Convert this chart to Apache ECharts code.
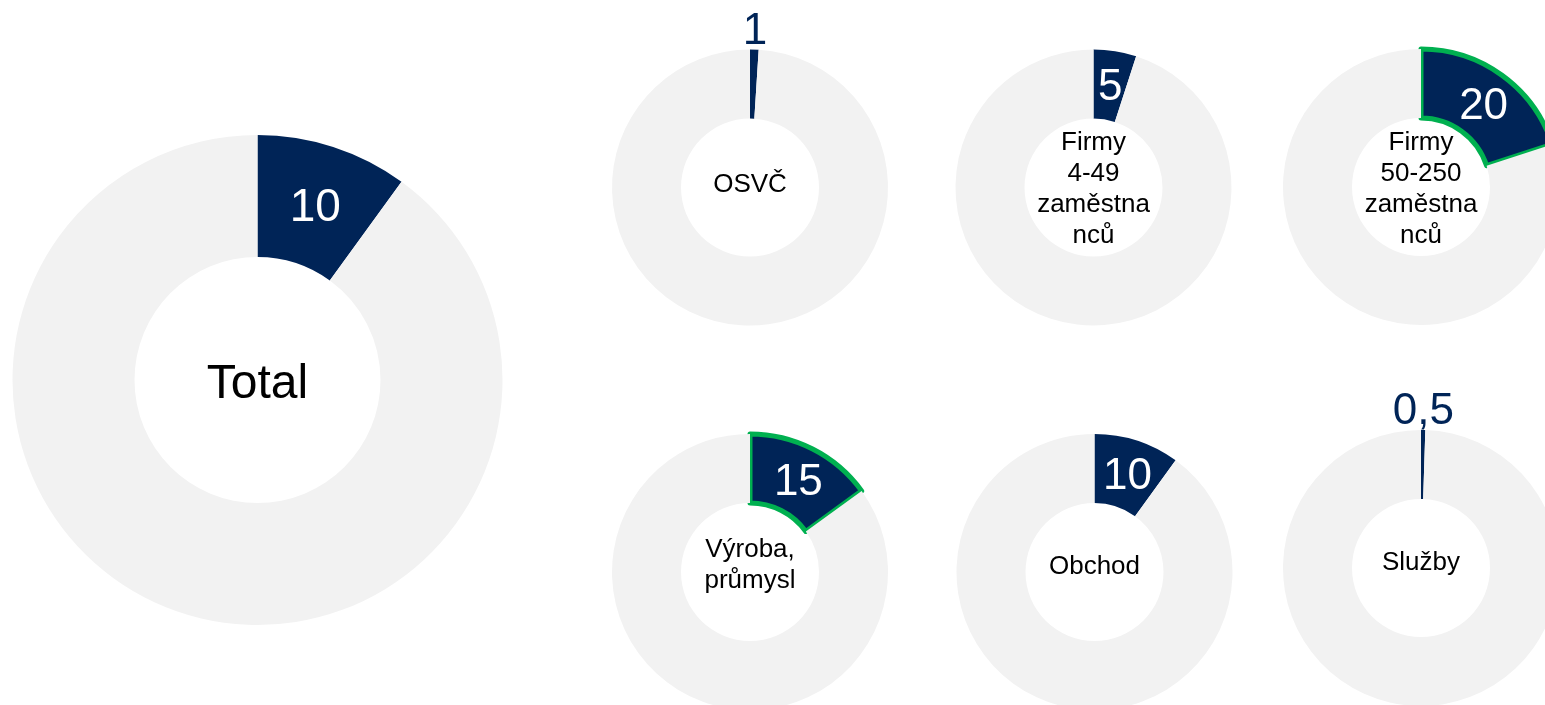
<!DOCTYPE html>
<html>
<head>
<meta charset="utf-8">
<script src="https://cdn.jsdelivr.net/npm/echarts@6/dist/echarts.min.js"></script>
<style>
  html, body { margin: 0; padding: 0; background: #fff; }
  #chart { width: 1545px; height: 705px; }
</style>
</head>
<body>
<div id="chart"></div>
<script>
  // data (shares in %)
  const categories = ['Total', 'OSVČ', 'Firmy\n4-49\nzaměstna\nnců', 'Firmy\n50-250\nzaměstna\nnců', 'Výroba,\nprůmysl', 'Obchod', 'Služby']
  const shares = [10, 1, 5, 20, 15, 10, 0.5]
  const highlighted = [false, false, false, true, true, false, false]

  const navy = '#002457'
  const grey = '#f2f2f2'
  const green = '#00b050'
  const font = '"Liberation Sans", Arial, sans-serif'

  // where each donut sits: cx, cy, inner r, outer r, number size, name size, name nudge (+ = down)
  const slots = [
    [257.5, 380, 123, 245, 46, 48, 5],
    [750, 187.5, 69, 138, 44, 26, -3],
    [1093.5, 187.5, 69, 138, 44, 26, 2],
    [1421, 187, 69, 138, 44, 26, 2],
    [750, 572, 69, 138, 44, 26, -7],
    [1094.5, 572, 69, 138, 44, 26, -5],
    [1421, 568, 69, 138, 44, 26, -5]
  ]

  const fmt = v => String(v).replace('.', ',')
  // rich text with a thin spacer line above (d > 0) or below (d < 0) to nudge the block
  const nudged = (lines, d) => {
    let body = lines.map(l => '{t|' + l + '}')
    if (d > 0) body.unshift('{s|\u200b}')
    if (d < 0) body.push('{s|\u200b}')
    return body.join('\n')
  }

  let series = []
  categories.forEach((name, i) => {
    const [cx, cy, r0, r, numSize, nameSize, dy] = slots[i]
    const v = shares[i]
    const small = v < 3
    series.push({
      type: 'pie',
      center: [cx, cy],
      radius: [r0, r],
      startAngle: 90,
      silent: true,
      avoidLabelOverlap: false,
      labelLayout: { hideOverlap: false },
      labelLine: { show: false },
      label: { fontFamily: font },
      data: [
        {
          value: v,
          name: name,
          itemStyle: {
            color: navy,
            borderColor: highlighted[i] ? green : navy,
            borderWidth: highlighted[i] ? 5 : 0
          },
          label: {
            show: !small,
            position: 'inside',
            formatter: p => nudged([fmt(p.value)], 6),
            rich: {
              t: { color: '#fff', fontSize: numSize, lineHeight: numSize, fontFamily: font },
              s: { fontSize: 2, lineHeight: 12 }
            }
          }
        },
        {
          value: 100 - v,
          name: 'rest',
          itemStyle: { color: grey },
          label: {
            show: true,
            position: 'center',
            formatter: () => nudged(name.split('\n'), dy),
            rich: {
              t: { color: '#000', fontSize: nameSize, lineHeight: Math.round(nameSize * 1.2), fontFamily: font },
              s: { fontSize: 2, lineHeight: Math.abs(dy) * 2 }
            }
          }
        }
      ]
    })
    // invisible ring just outside, carries the label of thin slices
    if (small) {
      series.push({
        type: 'pie',
        center: [cx, cy],
        radius: [r, r + 30],
        startAngle: 90,
        silent: true,
        avoidLabelOverlap: false,
        labelLayout: { hideOverlap: false },
        labelLine: { show: false },
        itemStyle: { color: 'rgba(0,0,0,0)' },
        data: [
          {
            value: v,
            label: {
              show: true,
              position: 'inside',
              color: navy,
              fontSize: numSize,
              fontFamily: font,
              formatter: p => fmt(p.value)
            }
          },
          { value: 100 - v, label: { show: false } }
        ]
      })
    }
  })

  let myChart = echarts.init(document.getElementById('chart'), null, { renderer: 'canvas' })
  myChart.setOption({
    animation: false,
    series: series
  })
</script>
</body>
</html>
